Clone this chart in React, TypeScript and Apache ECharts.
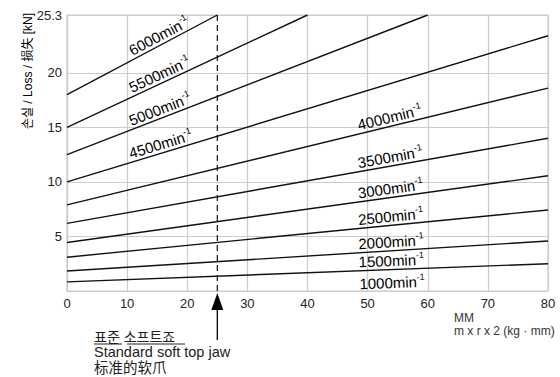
import React, { useEffect, useRef } from 'react';
import * as echarts from 'echarts';

// ---- data ----
const speeds = ['6000', '5500', '5000', '4500', '4000', '3500', '3000', '2500', '2000', '1500'];
const startMM = [0, 0, 0, 0, 0, 0, 0, 0, 0, 0];
const startLoss = [18, 15, 12.5, 10, 7.9, 6.2, 4.45, 3.1, 1.83, 0.84];
const endMM = [25, 40, 60, 80, 80, 80, 80, 80, 80, 80];
const endLoss = [25.3, 25.3, 25.3, 23.4, 18.6, 14.0, 10.56, 7.43, 4.58, 2.5];
const labelMM = [16, 16, 16, 16, 54, 54, 54, 54, 54, 54];
const extraSpeed = '1000'; // label printed below the 1500 curve
const yMax = 25.3;
const yLabelValues = [5, 10, 15, 20, 25.3];
const xMax = 80;
const xStep = 10;
const standardJawMM = 25;

const FONT = "'Liberation Sans', Arial, Helvetica, sans-serif";
const CJK_KR = "'Liberation Sans', 'Noto Sans CJK KR', 'Noto Sans CJK SC', sans-serif";
const CJK_SC = "'Liberation Sans', 'Noto Sans CJK SC', sans-serif";

export default function App() {
  const ref = useRef<HTMLDivElement>(null);
  useEffect(() => {
    document.body.style.margin = '0';
    const chart = echarts.init(ref.current!, null, { renderer: 'svg' });
    const gridColor = '#cccccc';
    const series: any[] = speeds.map((s, i) => ({
      name: s,
      type: 'line',
      data: [[startMM[i], startLoss[i]], [endMM[i], endLoss[i]]],
      symbol: 'none',
      silent: true,
      lineStyle: { color: '#111', width: 1.4 },
    }));
    series.push({
      name: 'standard',
      type: 'line',
      data: [[standardJawMM, 0], [standardJawMM, yMax]],
      symbol: 'none',
      silent: true,
      lineStyle: { color: '#111', width: 1.2, type: [6, 4] },
    });
    chart.setOption({
      animation: false,
      grid: { left: 67, right: 12, top: 15, bottom: 86, show: true, borderColor: gridColor, borderWidth: 1.2 },
      xAxis: {
        type: 'value', min: 0, max: xMax, interval: xStep,
        axisLine: { show: true, lineStyle: { color: gridColor, width: 1.2 } },
        axisTick: { show: false },
        splitLine: { show: true, lineStyle: { color: gridColor, width: 1.2 } },
        axisLabel: { color: '#222', fontSize: 13, fontFamily: FONT, margin: 6 },
      },
      yAxis: {
        type: 'value', min: 0, max: yMax,
        axisLine: { show: true, lineStyle: { color: gridColor, width: 1.2 } },
        axisTick: { show: false, customValues: yLabelValues },
        splitLine: { show: true, lineStyle: { color: gridColor, width: 1.2 } },
        axisLabel: { color: '#222', fontSize: 13, fontFamily: FONT, margin: 5, customValues: yLabelValues },
      },
      series,
    });

    const px = (x: number, y: number) => chart.convertToPixel({ gridIndex: 0 }, [x, y]) as number[];
    const rich = {
      n: { fontSize: 15, fontFamily: FONT, color: '#1a1a1a', lineHeight: 18 },
      s: { fontSize: 9, fontFamily: FONT, color: '#1a1a1a', lineHeight: 11, verticalAlign: 'top' },
    };
    const labelAt = (i: number, txt: string, offset: number) => {
      const p0 = px(startMM[i], startLoss[i]);
      const p1 = px(endMM[i], endLoss[i]);
      const a = Math.atan2(p1[1] - p0[1], p1[0] - p0[0]);
      const t = (labelMM[i] - startMM[i]) / (endMM[i] - startMM[i]);
      const p = px(labelMM[i], startLoss[i] + t * (endLoss[i] - startLoss[i]));
      const cx = p[0] + offset * Math.sin(a);
      const cy = p[1] - offset * Math.cos(a);
      return {
        type: 'text', x: cx, y: cy, rotation: -a, silent: true,
        style: { text: `{n|${txt}min}{s|-1}`, rich, align: 'center', verticalAlign: 'middle' },
      };
    };
    const elements: any[] = speeds.map((s, i) => labelAt(i, s, 9));
    elements.push(labelAt(speeds.length - 1, extraSpeed, -13));

    // arrow marking the standard soft top jaw
    const base = px(standardJawMM, 0);
    elements.push({
      type: 'polygon', silent: true,
      shape: { points: [[base[0], base[1] + 2], [base[0] - 6, base[1] + 19], [base[0] + 6, base[1] + 19]] },
      style: { fill: '#000' },
    });
    elements.push({
      type: 'line', silent: true,
      shape: { x1: base[0], y1: base[1] + 17, x2: base[0], y2: base[1] + 49 },
      style: { stroke: '#000', lineWidth: 1.3 },
    });

    const txt = (text: string, x: number, y: number, size: number, family: string, color = '#222') => ({
      type: 'text', x, y, silent: true,
      style: { text, fontSize: size, fontFamily: family, fill: color, align: 'left', verticalAlign: 'middle' },
    });
    elements.push(txt('표준 소프트죠', 94, 336.5, 14, CJK_KR));
    elements.push({ type: 'line', silent: true, shape: { x1: 94, y1: 344, x2: 122, y2: 344 }, style: { stroke: '#222', lineWidth: 1 } });
    elements.push({ type: 'line', silent: true, shape: { x1: 127, y1: 344, x2: 185, y2: 344 }, style: { stroke: '#222', lineWidth: 1 } });
    elements.push(txt('Standard soft top jaw', 94, 352, 14.5, FONT));
    elements.push(txt('标准的软爪', 94, 367.5, 14.5, CJK_SC));
    elements.push(txt('MM', 454, 317.5, 12, FONT, '#333'));
    elements.push(txt('m x r x 2 (kg · mm)', 454, 331, 12, FONT, '#333'));
    elements.push({
      type: 'text', x: 28, y: 71, rotation: Math.PI / 2, silent: true,
      style: {
        text: '{t|손실 / Loss / 损失 [kN]}', align: 'center', verticalAlign: 'middle',
        rich: { t: { fontSize: 12, fontFamily: CJK_KR, color: '#555', lineHeight: 14 } },
      },
    });
    chart.setOption({ graphic: elements });
    return () => chart.dispose();
  }, []);
  return <div ref={ref} style={{ width: 560, height: 377 }} />;
}
